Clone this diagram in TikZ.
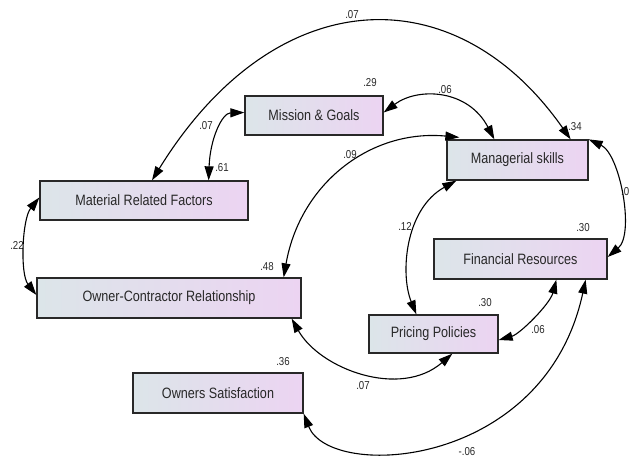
\documentclass[tikz,border=0pt]{standalone}
\usepackage{fontspec}
\setmainfont[FakeStretch=0.84]{Liberation Sans}
\usepackage{tikz}
\usetikzlibrary{arrows.meta,positioning}
\definecolor{boxleft}{RGB}{220,229,233}
\definecolor{boxright}{RGB}{236,212,242}
\definecolor{ink}{RGB}{40,40,40}

\begin{document}
\begin{tikzpicture}[x=1pt,y=1pt,
    var/.style={draw=ink,line width=1.3pt,left color=boxleft,right color=boxright,
      minimum height=39pt,inner sep=0pt,text=ink,font=\fontsize{15}{16}\selectfont},
    coef/.style={inner sep=0pt,text=ink,font=\fontsize{11.5}{12}\selectfont},
    cov/.style={{Triangle[length=14pt,width=9pt]}-{Triangle[length=14pt,width=9pt]},line width=1.1pt,black}]
\useasboundingbox (0,0) rectangle (629,459);
\node[var,minimum width=138pt] (mission) at (314,343.5) {Mission \& Goals};
\node[var,minimum width=208pt] (material) at (144,258.5) {Material Related Factors};
\node[var,minimum width=141pt,minimum height=40pt] (managerial) at (517.5,299) {Managerial skills};
\node[var,minimum width=264pt,minimum height=40pt] (owner) at (169,161) {Owner-Contractor Relationship};
\node[var,minimum width=170pt,minimum height=40pt] (satisfaction) at (218,66) {Owners Satisfaction};
\node[var,minimum width=173pt,minimum height=40pt] (financial) at (520.5,200) {Financial Resources};
\node[var,minimum width=129pt,minimum height=38pt] (pricing) at (433.5,125) {Pricing Policies};

\node[coef] (c07top) at (352,444) {.07};
\node[coef] (c29) at (370,376) {.29};
\node[coef] (c06top) at (445,369) {.06};
\node[coef] (c34) at (575,332) {.34};
\node[coef] (c07left) at (206,333) {.07};
\node[coef] (c61) at (222,291) {.61};
\node[coef] (c09) at (350,304) {.09};
\node[coef,anchor=west] (c0) at (621,267) {.0};
\node[coef] (c12) at (405,233) {.12};
\node[coef] (c30fin) at (583,231) {.30};
\node[coef] (c22) at (17,214) {.22};
\node[coef] (c48) at (267,192) {.48};
\node[coef] (c36) at (283,97) {.36};
\node[coef] (c30pri) at (485,156) {.30};
\node[coef] (c06pri) at (538,129) {.06};
\node[coef] (c07bot) at (363,73) {.07};
\node[coef] (cm06) at (467,7) {-.06};

\draw[cov] ([xshift=8pt]material.north) .. controls (275,478) and (455,485) .. ([xshift=-18pt]managerial.north east);
\draw[cov] ([xshift=-40pt]material.north east) .. controls (210,320) and (222,346) .. ([yshift=3pt]mission.west);
\draw[cov] ([yshift=3pt]mission.east) .. controls (418,372) and (468,370) .. ([xshift=48pt]managerial.north west);
\draw[cov] ([xshift=-18pt]owner.north east) .. controls (300,275) and (370,330) .. ([xshift=13pt,yshift=2pt]managerial.north west);
\draw[cov] ([xshift=48pt]pricing.north west) .. controls (400,185) and (405,250) .. ([xshift=10pt]managerial.south west);
\draw[cov] (managerial.north east) .. controls (620,305) and (635,225) .. ([yshift=2pt]financial.east);
\draw[cov] ([yshift=3pt]material.west) .. controls (22,240) and (20,185) .. ([yshift=3pt]owner.west);
\draw[cov] ([xshift=-10pt]owner.south east) .. controls (320,90) and (400,60) .. ([xshift=84pt]pricing.south west);
\draw[cov] ([yshift=-6pt]pricing.east) .. controls (520,125) and (550,155) .. ([xshift=123pt]financial.south west);
\draw[cov] (satisfaction.south east) .. controls (330,-22) and (545,-10) .. ([xshift=-22pt]financial.south east);
\end{tikzpicture}
\end{document}
